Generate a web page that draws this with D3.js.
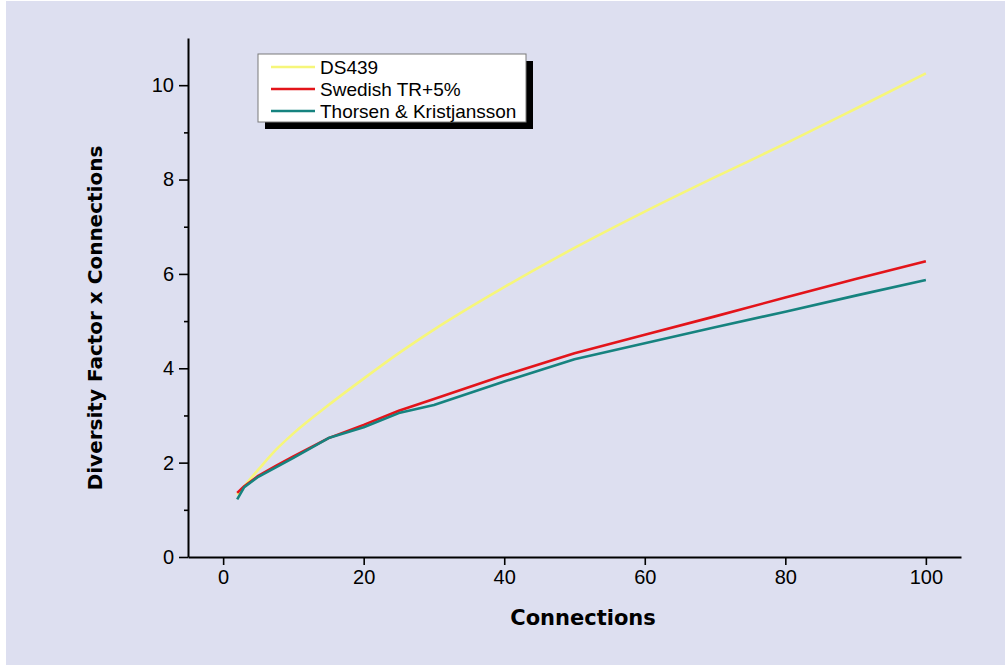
<!DOCTYPE html>
<html>
<head>
<meta charset="utf-8">
<script src="https://cdn.jsdelivr.net/npm/d3@7"></script>
<style>
  html, body { margin: 0; padding: 0; background: #ffffff; }
  svg { display: block; }
</style>
</head>
<body>
<svg id="chart" width="1005" height="669"></svg>
<script>
// Number of connections on the x axis
const connections = [2, 3, 5, 7.5, 10, 15, 20, 25, 30, 40, 50, 60, 70, 80, 90, 100];

// Diversity factor x connections for each method
const ds439      = [1.32, 1.50, 1.85, 2.27, 2.62, 3.22, 3.78, 4.32, 4.82, 5.72, 6.55, 7.32, 8.05, 8.76, 9.50, 10.25];
const swedishTR  = [1.36, 1.50, 1.72, 1.93, 2.13, 2.52, 2.80, 3.10, 3.35, 3.85, 4.32, 4.71, 5.10, 5.50, 5.89, 6.27];
const thorsenK   = [1.22, 1.48, 1.70, 1.90, 2.10, 2.52, 2.75, 3.05, 3.22, 3.72, 4.19, 4.53, 4.87, 5.20, 5.54, 5.87];

const seriesNames = ["DS439", "Swedish TR+5%", "Thorsen & Kristjansson"];
const seriesColors = ["#f6f67a", "#e3141a", "#16837f"];

const xTicks = [0, 20, 40, 60, 80, 100];
const yTicks = [0, 2, 4, 6, 8, 10];
const yMinorTicks = [1, 3, 5, 7, 9];

const xTitle = "Connections";
const yTitle = "Diversity Factor x Connections";

const svg = d3.select("#chart");

// page panel
svg.append("rect")
  .attr("x", 6).attr("y", 1)
  .attr("width", 999).attr("height", 664)
  .attr("fill", "#dddff0");

const x = d3.scaleLinear().domain([-5, 105]).range([188, 961]);
const y = d3.scaleLinear().domain([0, 11]).range([557, 38]);

const tickFont = "Liberation Sans, Arial, sans-serif";

// x axis
const xAxis = svg.append("g")
  .attr("transform", `translate(0,${y(0)})`)
  .call(d3.axisBottom(x).tickValues(xTicks).tickSize(8).tickSizeOuter(0).tickPadding(5));
// y axis
const yAxis = svg.append("g")
  .attr("transform", `translate(${x(-5)},0)`)
  .call(d3.axisLeft(y).tickValues(yTicks).tickSize(9).tickSizeOuter(0).tickPadding(5));
const yMinor = svg.append("g")
  .attr("transform", `translate(${x(-5)},0)`)
  .call(d3.axisLeft(y).tickValues(yMinorTicks).tickSize(4).tickSizeOuter(0).tickFormat(""));
yMinor.select(".domain").remove();

[xAxis, yAxis, yMinor].forEach(g => {
  g.selectAll(".domain").attr("stroke", "#000").attr("stroke-width", 2);
  g.selectAll(".tick line").attr("stroke", "#000").attr("stroke-width", 1.6);
  g.selectAll(".tick text")
    .attr("fill", "#000")
    .style("font-family", tickFont)
    .style("font-size", "20px");
});

// axis titles
svg.append("text")
  .attr("x", 583).attr("y", 625)
  .attr("text-anchor", "middle")
  .style("font-family", "DejaVu Sans, sans-serif")
  .style("font-weight", "bold")
  .style("font-size", "21px")
  .attr("fill", "#000")
  .text(xTitle);

svg.append("text")
  .attr("transform", `translate(102,318) rotate(-90)`)
  .attr("text-anchor", "middle")
  .style("font-family", "DejaVu Sans, sans-serif")
  .style("font-weight", "bold")
  .style("font-size", "20px")
  .attr("fill", "#000")
  .text(yTitle);

// curves
const allSeries = [ds439, swedishTR, thorsenK];
allSeries.forEach((vals, i) => {
  const line = d3.line()
    .x((d, j) => x(connections[j]))
    .y(d => y(d))
    .curve(i === 0 ? d3.curveMonotoneX : d3.curveLinear);
  svg.append("path")
    .datum(vals)
    .attr("d", line)
    .attr("fill", "none")
    .attr("stroke", seriesColors[i])
    .attr("stroke-width", 2.6)
    .attr("stroke-linejoin", "round");
});

// legend with drop shadow
const lg = svg.append("g");
lg.append("rect").attr("x", 265).attr("y", 61).attr("width", 268).attr("height", 68).attr("fill", "#000");
lg.append("rect").attr("x", 258).attr("y", 54).attr("width", 268).attr("height", 68)
  .attr("fill", "#fff").attr("stroke", "#7a7a7a").attr("stroke-width", 1);
seriesNames.forEach((name, i) => {
  const cy = 67 + i * 22;
  lg.append("line")
    .attr("x1", 271).attr("x2", 315).attr("y1", cy).attr("y2", cy)
    .attr("stroke", seriesColors[i]).attr("stroke-width", 2.6);
  lg.append("text")
    .attr("x", 320).attr("y", cy + 7)
    .style("font-family", tickFont)
    .style("font-size", "19px")
    .attr("fill", "#000")
    .text(name);
});
</script>
</body>
</html>
